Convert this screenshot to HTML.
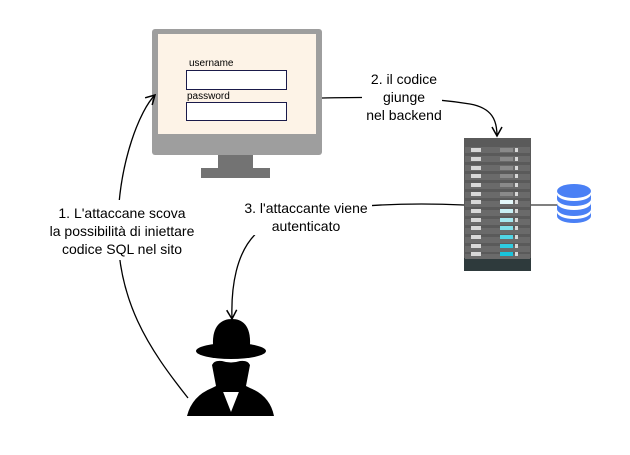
<!DOCTYPE html>
<html><head><style>
body{margin:0;background:#fff;}
svg text{font-family:"Liberation Sans",sans-serif;}
</style></head><body>
<svg width="630" height="450" xmlns="http://www.w3.org/2000/svg">
<defs>
<marker id="a" markerWidth="12" markerHeight="12" refX="10" refY="6" orient="auto" markerUnits="userSpaceOnUse">
<path d="M1,1 L10,6 L1,11" fill="none" stroke="#000" stroke-width="1.5"/>
</marker>
</defs>
<!-- monitor -->
<rect x="152" y="29" width="170" height="126" rx="3" fill="#9e9e9e"/>
<rect x="158" y="34" width="158" height="100" fill="#fdf3e7"/>
<rect x="218" y="155" width="35" height="14" fill="#737373"/>
<rect x="201" y="168" width="69" height="10" fill="#737373"/>
<text x="189" y="66" font-size="10">username</text>
<rect x="186.5" y="70.5" width="100" height="19" fill="#fff" stroke="#1a1a4a"/>
<text x="187" y="99" font-size="10">password</text>
<rect x="186.5" y="102.5" width="100" height="18" fill="#fff" stroke="#1a1a4a"/>
<!-- server -->
<rect x="464" y="138" width="67" height="133" fill="#5a5a5a"/>
<rect x="464" y="258" width="67" height="13" fill="#2e3a3c"/>
<g id="rows"></g>
<g fill="#6a6a6a">
<rect x="465" y="147" width="65" height="6"/><rect x="465" y="156" width="65" height="6"/><rect x="465" y="165" width="65" height="6"/><rect x="465" y="174" width="65" height="6"/><rect x="465" y="183" width="65" height="6"/><rect x="465" y="192" width="65" height="6"/><rect x="465" y="201" width="65" height="6"/><rect x="465" y="210" width="65" height="6"/><rect x="465" y="219" width="65" height="6"/><rect x="465" y="228" width="65" height="6"/><rect x="465" y="237" width="65" height="6"/><rect x="465" y="246" width="65" height="6"/><rect x="465" y="254" width="65" height="5"/>
</g>
<g fill="#d8d8d8">
<rect x="471" y="148" width="10" height="4"/><rect x="471" y="157" width="10" height="4"/><rect x="471" y="166" width="10" height="4"/><rect x="471" y="174" width="10" height="4"/><rect x="471" y="183" width="10" height="4"/><rect x="471" y="192" width="10" height="4"/><rect x="471" y="200" width="10" height="4"/><rect x="471" y="209" width="10" height="4"/><rect x="471" y="218" width="10" height="4"/><rect x="471" y="226" width="10" height="4"/><rect x="471" y="235" width="10" height="4"/><rect x="471" y="244" width="10" height="4"/><rect x="471" y="252" width="10" height="4"/>
<rect x="515" y="148" width="3" height="4"/><rect x="515" y="157" width="3" height="4"/><rect x="515" y="166" width="3" height="4"/><rect x="515" y="174" width="3" height="4"/><rect x="515" y="183" width="3" height="4"/><rect x="515" y="192" width="3" height="4"/><rect x="515" y="200" width="3" height="4"/><rect x="515" y="209" width="3" height="4"/><rect x="515" y="218" width="3" height="4"/><rect x="515" y="226" width="3" height="4"/><rect x="515" y="235" width="3" height="4"/><rect x="515" y="244" width="3" height="4"/><rect x="515" y="252" width="3" height="4"/>
</g>
<g>
<rect x="500" y="148" width="13" height="4" fill="#8a8a8a"/><rect x="500" y="157" width="13" height="4" fill="#8a8a8a"/><rect x="500" y="166" width="13" height="4" fill="#8a8a8a"/><rect x="500" y="174" width="13" height="4" fill="#8a8a8a"/><rect x="500" y="183" width="13" height="4" fill="#8a8a8a"/><rect x="500" y="192" width="13" height="4" fill="#8a8a8a"/>
<rect x="500" y="200" width="13" height="4" fill="#e4f8fa"/><rect x="500" y="209" width="13" height="4" fill="#c8f0f5"/><rect x="500" y="218" width="13" height="4" fill="#a4e8f0"/><rect x="500" y="226" width="13" height="4" fill="#80e0ea"/><rect x="500" y="235" width="13" height="4" fill="#50d4e4"/><rect x="500" y="244" width="13" height="4" fill="#2ecbe0"/><rect x="500" y="252" width="13" height="4" fill="#18c4dc"/>
</g>
<!-- db -->
<line x1="531" y1="205" x2="557" y2="205" stroke="#000" stroke-width="1"/>
<g fill="#4a80f5">
<ellipse cx="574" cy="191" rx="17" ry="7"/>
<path d="M557,194 a17,7 0 0 0 34,0 v5 a17,7 0 0 1 -34,0z"/>
<path d="M557,203 a17,7 0 0 0 34,0 v6 a17,7 0 0 1 -34,0z"/>
<path d="M557,212 a17,7 0 0 0 34,0 v4 a17,7 0 0 1 -34,0z"/>
</g>
<!-- hacker -->
<path d="M213,345 C212,325 222,319 232,319 C242,319 251,325 250,345 Z" fill="#000"/>
<ellipse cx="231" cy="351" rx="35" ry="8" fill="#000"/>
<path d="M212,365 Q214,360 222,361 Q231,364 240,361 Q248,360 250,365 L246,386 L240,392 L222,392 L216,386 Z" fill="#000"/>
<path d="M187,416 Q192,396 212,388 L220,384 L231,412 L242,384 L250,388 Q270,396 274,416 Z" fill="#000"/>
<!-- connectors -->
<path d="M188,398 C150,350 115,300 118,220 C120,160 140,110 155,95" fill="none" stroke="#000" stroke-width="1.3" marker-end="url(#a)"/>
<path d="M322,98 C380,97 420,96 470,104 C492,108 497,120 497,136" fill="none" stroke="#000" stroke-width="1.3" marker-end="url(#a)"/>
<path d="M464,205 C400,202 300,205 260,230 C235,250 231,290 232,319" fill="none" stroke="#000" stroke-width="1.3" marker-end="url(#a)"/>
<!-- labels -->
<rect x="48" y="200" width="150" height="60" fill="#fff"/>
<text font-size="14" text-anchor="middle"><tspan x="122" y="218">1. L'attaccane scova</tspan><tspan x="122" y="236">la possibilità di iniettare</tspan><tspan x="122" y="254">codice SQL nel sito</tspan></text>
<rect x="362" y="70" width="80" height="56" fill="#fff"/>
<text font-size="14" text-anchor="middle"><tspan x="404" y="84">2. il codice</tspan><tspan x="404" y="102">giunge</tspan><tspan x="404" y="120">nel backend</tspan></text>
<rect x="240" y="199" width="132" height="36" fill="#fff"/>
<text font-size="14" text-anchor="middle"><tspan x="306" y="213">3. l'attaccante viene</tspan><tspan x="306" y="231">autenticato</tspan></text>
</svg>
</body></html>
